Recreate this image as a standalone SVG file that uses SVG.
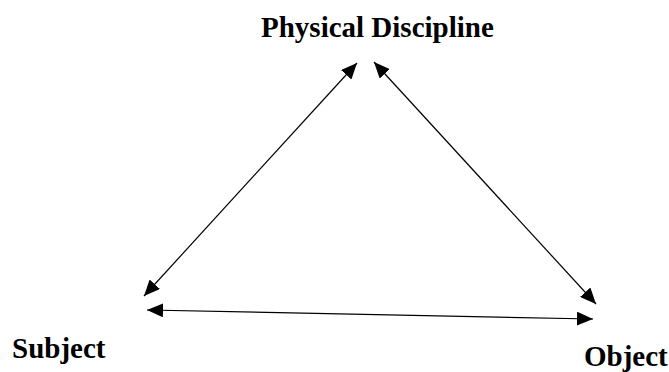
<svg xmlns="http://www.w3.org/2000/svg" width="669" height="372" viewBox="0 0 669 372">
<style>
.lbl{font-family:"Liberation Serif","Times New Roman",serif;font-weight:bold;font-size:29px;fill:#000}
.conn{stroke:#000;stroke-width:1.2;fill:none;marker-start:url(#ah);marker-end:url(#ah)}
</style>
<defs>
<marker id="ah" markerUnits="userSpaceOnUse" markerWidth="16" markerHeight="14" refX="16" refY="7" orient="auto-start-reverse">
<path d="M0,0 L16,7 L0,14 z" fill="#000"/>
</marker>
</defs>
<rect width="669" height="372" fill="#fff"/>
<g id="connectors">
<line class="conn" x1="144" y1="296" x2="357" y2="63"/>
<line class="conn" x1="374" y1="62" x2="596" y2="304"/>
<line class="conn" x1="147" y1="310" x2="593" y2="319"/>
</g>
<g id="physical-discipline"><text class="lbl" x="261" y="37">Physical Discipline</text></g>
<g id="subject"><text class="lbl" x="12" y="358">Subject</text></g>
<g id="object"><text class="lbl" x="584" y="366">Object</text></g>
</svg>
